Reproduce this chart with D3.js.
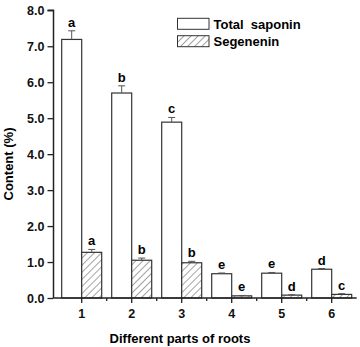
<!DOCTYPE html>
<html><head><meta charset="utf-8">
<script src="https://cdn.jsdelivr.net/npm/d3@7"></script>
<style>body{margin:0;background:#fff}svg{display:block}text{font-family:"Liberation Sans",Arial,sans-serif;font-weight:bold}</style>
</head><body><svg id="c" width="360" height="347"></svg>
<script>
const categories = ["1","2","3","4","5","6"];
const seriesNames = ["Total  saponin","Segenenin"];
const totalSaponin = [7.19, 5.70, 4.89, 0.675, 0.69, 0.80];
const totalErr = [0.24, 0.20, 0.13, 0.02, 0.02, 0.02];
const totalLetters = ["a","b","c","e","e","d"];
const segenenin = [1.27, 1.05, 0.98, 0.06, 0.08, 0.10];
const segErr = [0.08, 0.06, 0.04, 0.01, 0.01, 0.02];
const segLetters = ["a","b","b","e","d","c"];
const yTicks = [0,1,2,3,4,5,6,7,8];

const svg = d3.select("#c");
const x = d3.scaleBand().domain(categories).range([56.7, 356.7]);
const y = d3.scaleLinear().domain([0, 8]).range([298, 10.3]);
const bw = 20;

const defs = svg.append("defs");
const pat = defs.append("pattern").attr("id","hatch").attr("patternUnits","userSpaceOnUse")
  .attr("width",5).attr("height",5).attr("patternTransform","rotate(45)");
pat.append("rect").attr("width",5).attr("height",5).attr("fill","#fff");
pat.append("line").attr("x1",0).attr("y1",0).attr("x2",0).attr("y2",5).attr("stroke","#333").attr("stroke-width",0.9);

const series = [
  {vals: totalSaponin, err: totalErr, letters: totalLetters, off: -bw, fill: "#fff"},
  {vals: segenenin, err: segErr, letters: segLetters, off: 0, fill: "url(#hatch)"}
];

series.forEach(s => {
  const g = svg.append("g");
  categories.forEach((c, i) => {
    const cx = x(c) + x.bandwidth()/2;
    const x0 = cx + s.off;
    g.append("rect").attr("x", x0).attr("y", y(s.vals[i])).attr("width", bw)
      .attr("height", y(0) - y(s.vals[i])).attr("fill", s.fill).attr("stroke", "#333").attr("stroke-width", 1.2);
    const mx = x0 + bw/2;
    const et = y(s.vals[i] + s.err[i]);
    g.append("line").attr("x1", mx).attr("x2", mx).attr("y1", y(s.vals[i])).attr("y2", et).attr("stroke","#555").attr("stroke-width",1);
    g.append("line").attr("x1", mx-3.5).attr("x2", mx+3.5).attr("y1", et).attr("y2", et).attr("stroke","#555").attr("stroke-width",1);
    g.append("text").attr("x", mx).attr("y", et - 4).attr("text-anchor","middle").attr("font-size", 13).text(s.letters[i]);
  });
});

// Y axis
const yAxis = d3.axisLeft(y).tickValues(yTicks).tickFormat(d3.format(".1f")).tickSize(6).tickPadding(3);
const gy = svg.append("g").attr("transform","translate(53.5,0)").call(yAxis);
gy.select(".domain").attr("stroke","#222").attr("stroke-width",1.5).attr("d", `M-6,${y(8)}H0V${y(0)}`);
gy.selectAll(".tick line").attr("stroke","#222").attr("stroke-width",1.3);
gy.selectAll(".tick text").attr("font-size",12.5).attr("fill","#111").style("font-family","Liberation Sans, Arial").style("font-weight","bold");

// X axis
const xAxis = d3.axisBottom(x).tickSize(5).tickPadding(6);
const gx = svg.append("g").attr("transform",`translate(0,${y(0)})`).call(xAxis);
gx.select(".domain").attr("stroke","#222").attr("stroke-width",1.5).attr("d", `M53.5,0H356.7`);
gx.selectAll(".tick line").attr("stroke","#222").attr("stroke-width",1.3);
gx.selectAll(".tick text").attr("font-size",12.5).attr("fill","#111").style("font-family","Liberation Sans, Arial").style("font-weight","bold");
// minor ticks at boundaries
gx.selectAll(".minor").data(categories.slice(1)).enter().append("line")
  .attr("x1", d => x(d)).attr("x2", d => x(d)).attr("y1",0).attr("y2",3).attr("stroke","#222").attr("stroke-width",1.3);

// Titles
svg.append("text").attr("x",180).attr("y",343).attr("text-anchor","middle").attr("font-size",13).text("Different parts of roots");
svg.append("text").attr("transform","translate(13,164) rotate(-90)").attr("text-anchor","middle").attr("font-size",13).text("Content (%)");

// Legend
const fills = ["#fff","url(#hatch)"];
seriesNames.forEach((n,i) => {
  const ly = 18.3 + i*17.4;
  svg.append("rect").attr("x",177.5).attr("y",ly).attr("width",31.5).attr("height",11).attr("fill",fills[i]).attr("stroke","#333").attr("stroke-width",1);
  svg.append("text").attr("x",213.5).attr("y",ly+10.5).attr("font-size",13).attr("xml:space","preserve").style("white-space","pre").text(n);
});
</script></body></html>
